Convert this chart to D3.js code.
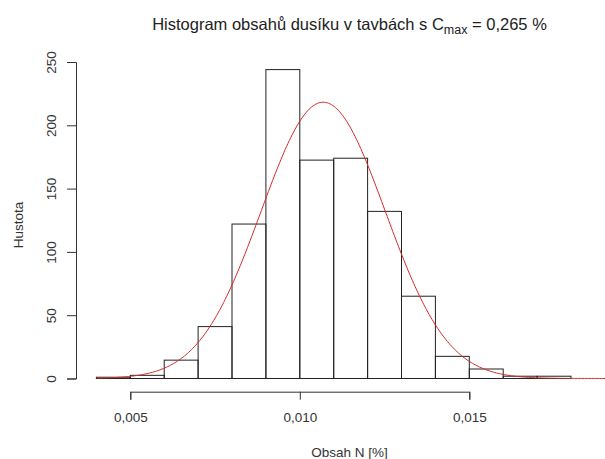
<!DOCTYPE html>
<html>
<head>
<meta charset="utf-8">
<script src="https://cdn.jsdelivr.net/npm/d3@7"></script>
<style>
  html, body { margin: 0; padding: 0; background: #fff; }
  svg { display: block; font-family: "Liberation Sans", Arial, sans-serif; }
</style>
</head>
<body>
<svg id="chart" width="605" height="459"></svg>
<script>
// Histogram bins (nitrogen content, %) and their densities
const binStarts = [0.004, 0.005, 0.006, 0.007, 0.008, 0.009, 0.010, 0.011, 0.012, 0.013, 0.014, 0.015, 0.016, 0.017];
const binWidth = 0.001;
const densities = [1, 2.5, 14.5, 41, 122, 244, 172.5, 174, 132, 65, 17.5, 7.5, 1.8, 1.8];

// Fitted normal curve parameters
const fitMean = 0.01069;
const fitSd = 0.001828;
const curveFrom = 0.004;
const curveTo = 0.0205;

const xTicks = [0.005, 0.010, 0.015];
const xTickLabels = ["0,005", "0,010", "0,015"];
const yTicks = [0, 50, 100, 150, 200, 250];

const svg = d3.select("#chart");

const x = d3.scaleLinear().domain([0.005, 0.015]).range([130.3, 469.3]);
const y = d3.scaleLinear().domain([0, 250]).range([378.5, 62]);

const ink = "#333";
const fontSize = 13.5;

// Bars
svg.append("g")
  .selectAll("rect")
  .data(binStarts)
  .join("rect")
  .attr("x", (d) => x(d))
  .attr("width", (d) => x(d + binWidth) - x(d))
  .attr("y", (d, i) => y(densities[i]))
  .attr("height", (d, i) => y(0) - y(densities[i]))
  .attr("fill", "none")
  .attr("stroke", "#222")
  .attr("stroke-width", 1);

// Normal density curve
const dnorm = (v) => Math.exp(-0.5 * ((v - fitMean) / fitSd) ** 2) / (fitSd * Math.sqrt(2 * Math.PI));
const curvePts = d3.range(0, 401).map((i) => curveFrom + (curveTo - curveFrom) * i / 400);
svg.append("path")
  .datum(curvePts)
  .attr("fill", "none")
  .attr("stroke", "#d42a2a")
  .attr("stroke-width", 1)
  .attr("d", d3.line().x((d) => x(d)).y((d) => y(dnorm(d))));

// X axis
const xAxis = d3.axisBottom(x)
  .tickValues(xTicks)
  .tickFormat((d, i) => xTickLabels[i])
  .tickSize(8)
  .tickPadding(13);
const gx = svg.append("g").attr("transform", "translate(0,391.7)").call(xAxis);
gx.select(".domain").attr("stroke", ink);
gx.selectAll(".tick line").attr("stroke", ink);
gx.selectAll(".tick text").attr("fill", ink).attr("font-size", fontSize).attr("font-family", "Liberation Sans, Arial, sans-serif");

// Y axis with rotated tick labels
const yAxis = d3.axisLeft(y).tickValues(yTicks).tickSize(9);
const gy = svg.append("g").attr("transform", "translate(76,0)").call(yAxis);
gy.select(".domain").attr("stroke", ink);
gy.selectAll(".tick line").attr("stroke", ink);
gy.selectAll(".tick text")
  .attr("fill", ink)
  .attr("font-size", fontSize)
  .attr("font-family", "Liberation Sans, Arial, sans-serif")
  .attr("text-anchor", "middle")
  .attr("x", 0)
  .attr("y", 0)
  .attr("dy", "0.35em")
  .attr("transform", "translate(-24.5,0) rotate(-90)");

// Title with subscript
const title = svg.append("text")
  .attr("x", 349.5)
  .attr("y", 30)
  .attr("text-anchor", "middle")
  .attr("font-size", 16.5)
  .attr("fill", "#222");
title.append("tspan").text("Histogram obsahů dusíku v tavbách s C");
title.append("tspan").attr("font-size", 12.5).attr("dy", 4).text("max");
title.append("tspan").attr("dy", -4).text(" = 0,265 %");

// Axis labels
svg.append("text")
  .attr("x", 349.5)
  .attr("y", 456.5)
  .attr("text-anchor", "middle")
  .attr("font-size", fontSize)
  .attr("fill", ink)
  .text("Obsah N [%]");

svg.append("text")
  .attr("transform", "translate(22.5,225) rotate(-90)")
  .attr("text-anchor", "middle")
  .attr("font-size", fontSize)
  .attr("fill", ink)
  .text("Hustota");
</script>
</body>
</html>
